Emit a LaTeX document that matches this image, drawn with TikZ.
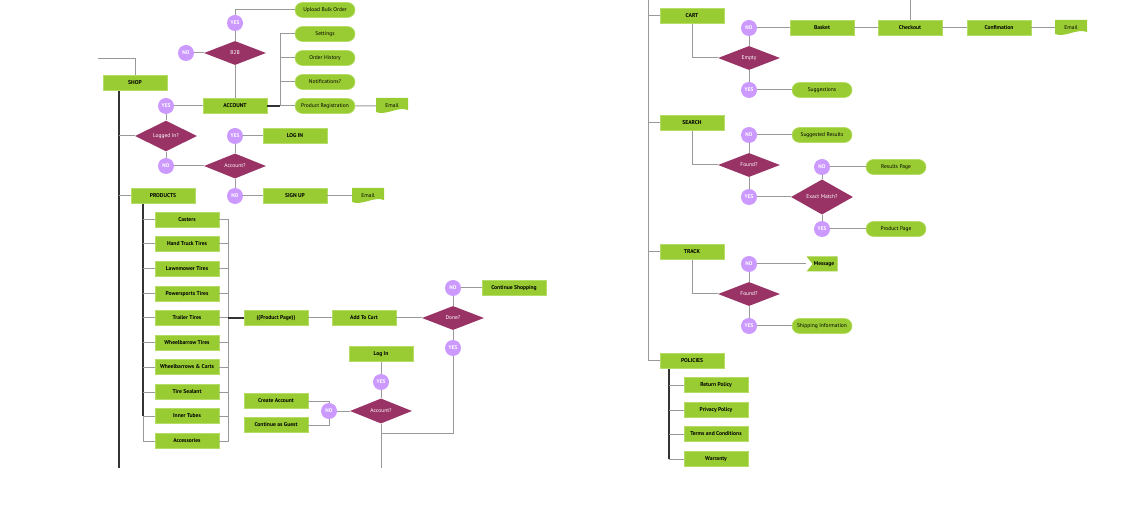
\documentclass[tikz,border=0pt]{standalone}
\usepackage{fontspec}
\setmainfont{PT Sans}
\usetikzlibrary{shapes.geometric,shapes.misc}
\definecolor{bgreen}{HTML}{99CC33}
\definecolor{bgreenl}{HTML}{B5DD66}
\definecolor{dpurple}{HTML}{993366}
\definecolor{clav}{HTML}{CC99FF}
\definecolor{lgray}{HTML}{999999}
\definecolor{dgray}{HTML}{333333}
\tikzset{
  box/.style={rectangle, fill=bgreen, draw=bgreenl, line width=0.6pt, minimum width=64pt, minimum height=15pt, inner sep=0pt, font=\fontsize{5.6}{6}\selectfont\bfseries},
  pill/.style={rounded rectangle, fill=bgreen, draw=bgreenl, line width=0.6pt, minimum width=60pt, minimum height=15pt, inner sep=0pt, font=\fontsize{5.5}{6}\selectfont},
  dia/.style={diamond, fill=dpurple, minimum width=62pt, minimum height=24pt, inner sep=0pt, text=white, font=\fontsize{5.5}{6}\selectfont},
  yn/.style={circle, fill=clav, minimum size=16pt, inner sep=0pt, text=white, font=\fontsize{5.3}{6}\selectfont\bfseries},
  docnode/.style={rectangle, minimum width=32pt, minimum height=16pt, inner sep=0pt, font=\fontsize{5.5}{6}\selectfont,
    path picture={\fill[bgreen] (path picture bounding box.north west) -- (path picture bounding box.north east) -- ([yshift=4pt]path picture bounding box.south east) .. controls +(-10pt,4pt) and +(10pt,-4pt) .. ([yshift=2pt]path picture bounding box.south west) -- cycle;}},
  flagnode/.style={rectangle, minimum width=31pt, minimum height=15pt, inner sep=0pt, font=\fontsize{5.5}{6}\selectfont,
    path picture={\fill[bgreen] (path picture bounding box.north west) -- (path picture bounding box.north east) -- (path picture bounding box.south east) -- (path picture bounding box.south west) -- ([xshift=6pt]path picture bounding box.west) -- cycle;}},
  ln/.style={draw=lgray, line width=1pt},
  dk/.style={draw=dgray, line width=1.4pt},
}
\begin{document}
\begin{tikzpicture}[x=1pt,y=-1pt]
\useasboundingbox (0,0) rectangle (1140,510);
% ---------------- left part ----------------
\coordinate (tl) at (98,59);
\coordinate (trunkL) at (119,468);
\node[box] (shop) at (135,83) {SHOP};
\draw[ln] (tl) -| (shop.north);
\draw[dk] (shop.south -| trunkL) -- (trunkL);

\node[dia] (logged) at (166,136) {Logged In?};
\draw[ln] (logged.west -| trunkL) -- (logged.west);
\node[yn] (y1) at (166,106) {YES};
\node[box] (account) at (235,106) {ACCOUNT};
\node[dia] (b2b) at (235,53) {B2B};
\node[yn] (n1) at (186,53) {NO};
\node[yn] (y2) at (235,23) {YES};
\node[pill] (bulk) at (325,10) {Upload Bulk Order};
\node[pill] (settings) at (325,34) {Settings};
\node[pill] (orders) at (325,58) {Order History};
\node[pill] (notif) at (325,82) {Notifications?};
\node[pill] (prodreg) at (325,106) {Product Registration};
\node[docnode] (email1) at (392,106) {Email};
\coordinate (ab) at (280,106);
\draw[ln] (y1) -- (logged);
\draw[ln] (y1) -- (account);
\draw[ln] (account) -- (b2b);
\draw[ln] (n1) -- (b2b);
\draw[ln] (y2) -- (b2b);
\draw[ln] (y2) |- (bulk);
\draw[ln] (settings.west) -| (ab);
\draw[ln] (orders.west) -- (orders.west -| ab);
\draw[ln] (notif.west) -- (notif.west -| ab);
\draw[dk] (account.east) -- (ab);
\draw[ln] (ab) -- (prodreg.west);
\draw[ln] (prodreg) -- (email1);

\node[yn] (n2) at (166,166) {NO};
\node[dia] (acct1) at (235,166) {Account?};
\node[yn] (y3) at (235,136) {YES};
\node[box] (login) at (295,136) {LOG IN};
\node[yn] (n3) at (235,196) {NO};
\node[box] (signup) at (295,196) {SIGN UP};
\node[docnode] (email2) at (368,196) {Email};
\draw[ln] (logged) -- (n2);
\draw[ln] (n2) -- (acct1);
\draw[ln] (acct1) -- (y3);
\draw[ln] (y3) -- (login);
\draw[ln] (acct1) -- (n3);
\draw[ln] (n3) -- (signup);
\draw[ln] (signup) -- (email2);

\node[box] (products) at (163,196) {PRODUCTS};
\draw[ln] (products.west -| trunkL) -- (products.west);
\coordinate (pb) at (143,0);
\coordinate (rb) at (228,0);
\node[box] (i1) at (187,220) {Casters};
\node[box] (i2) at (187,244) {Hand Truck Tires};
\node[box] (i3) at (187,269) {Lawnmower Tires};
\node[box] (i4) at (187,294) {Powersports Tires};
\node[box] (i5) at (187,318) {Trailer Tires};
\node[box] (i6) at (187,343) {Wheelbarrow Tires};
\node[box] (i7) at (187,367) {Wheelbarrows \& Carts};
\node[box] (i8) at (187,392) {Tire Sealant};
\node[box] (i9) at (187,416) {Inner Tubes};
\node[box] (i10) at (187,441) {Accessories};
\draw[dk] (products.south -| pb) -- (i9.west -| pb);
\draw[ln] (i9.west -| pb) |- (i10.west);
\foreach \i in {1,...,9} {\draw[ln] (i\i.west -| pb) -- (i\i.west);}
\draw[ln] (i1.east) -| (i10.east -| rb) -- (i10.east);
\foreach \i in {2,...,9} {\draw[ln] (i\i.east) -- (i\i.east -| rb);}

\node[box] (pp) at (276,318) {((Product Page))};
\node[box] (addcart) at (364,318) {Add To Cart};
\node[dia] (done) at (453,318) {Done?};
\node[yn] (n4) at (453,288) {NO};
\node[box] (cont) at (514,288) {Continue Shopping};
\node[yn] (y4) at (453,348) {YES};
\draw[dk] (i5.east -| rb) -- (pp.west);
\draw[ln] (pp) -- (addcart);
\draw[ln] (addcart) -- (done);
\draw[ln] (done) -- (n4);
\draw[ln] (n4) -- (cont);
\draw[ln] (done) -- (y4);

\node[box] (login2) at (381,354) {Log In};
\node[yn] (y5) at (381,382) {YES};
\node[dia] (acct2) at (381,411) {Account?};
\node[yn] (n5) at (329,411) {NO};
\node[box] (create) at (276,401) {Create Account};
\node[box] (guest) at (276,425) {Continue as Guest};
\coordinate (jn) at (381,433);
\coordinate (endL) at (381,468);
\draw[ln] (login2) -- (y5);
\draw[ln] (y5) -- (acct2);
\draw[ln] (n5) -- (acct2);
\draw[ln] (create.east) -| (n5);
\draw[ln] (guest.east) -| (n5);
\draw[ln] (y4) |- (jn);
\draw[ln] (acct2) -- (endL);

% ---------------- right part ----------------
\coordinate (rtop) at (648,0);
\node[box] (cartR) at (692,16) {CART};
\node[box] (search) at (692,123) {SEARCH};
\node[box] (track) at (692,252) {TRACK};
\node[box] (policies) at (692,361) {POLICIES};
\draw[ln] (rtop) |- (policies.west);
\draw[ln] (cartR.west -| rtop) -- (cartR.west);
\draw[ln] (search.west -| rtop) -- (search.west);
\draw[ln] (track.west -| rtop) -- (track.west);

\node[dia] (empty) at (749,58) {Empty};
\node[yn] (n6) at (749,28) {NO};
\node[box] (basket) at (822,28) {Basket};
\node[box] (checkout) at (910,28) {Checkout};
\node[box] (confirm) at (999,28) {Confimation};
\node[docnode] (email3) at (1071,28) {Email};
\node[yn] (y6) at (749,90) {YES};
\node[pill] (sugg) at (822,90) {Suggestions};
\coordinate (ctop) at (910,0);
\draw[ln] (cartR.south) |- (empty.west);
\draw[ln] (empty) -- (n6);
\draw[ln] (n6) -- (basket);
\draw[ln] (basket) -- (checkout);
\draw[ln] (checkout) -- (confirm);
\draw[ln] (confirm) -- (email3);
\draw[ln] (checkout.north) -- (ctop);
\draw[ln] (empty) -- (y6);
\draw[ln] (y6) -- (sugg);

\node[dia] (found1) at (749,165) {Found?};
\node[yn] (n7) at (749,135) {NO};
\node[pill] (sres) at (822,135) {Suggested Results};
\node[yn] (y7) at (749,197) {YES};
\node[dia] (exact) at (822,197) {Exact Match?};
\node[yn] (n8) at (822,167) {NO};
\node[pill] (rpage) at (896,167) {Results Page};
\node[yn] (y8) at (822,229) {YES};
\node[pill] (ppage) at (896,229) {Product Page};
\draw[ln] (search.south) |- (found1.west);
\draw[ln] (found1) -- (n7);
\draw[ln] (n7) -- (sres);
\draw[ln] (found1) -- (y7);
\draw[ln] (y7) -- (exact);
\draw[ln] (exact) -- (n8);
\draw[ln] (n8) -- (rpage);
\draw[ln] (exact) -- (y8);
\draw[ln] (y8) -- (ppage);

\node[dia] (found2) at (749,294) {Found?};
\node[yn] (n9) at (749,264) {NO};
\node[flagnode] (msg) at (822,264) {\hspace{4pt}\bfseries Message};
\node[yn] (y9) at (749,326) {YES};
\node[pill] (ship) at (822,326) {Shipping Information};
\draw[ln] (track.south) |- (found2.west);
\draw[ln] (found2) -- (n9);
\draw[ln] (n9) -- (msg);
\draw[ln] (found2) -- (y9);
\draw[ln] (y9) -- (ship);

\coordinate (polb) at (669,0);
\node[box] (p1) at (716,385) {Return Policy};
\node[box] (p2) at (716,410) {Privacy Policy};
\node[box] (p3) at (716,434) {Terms and Conditions};
\node[box] (p4) at (716,459) {Warranty};
\draw[dk] (policies.south -| polb) -- (p4.west -| polb);
\foreach \i in {1,...,4} {\draw[ln] (p\i.west -| polb) -- (p\i.west);}
\end{tikzpicture}
\end{document}
